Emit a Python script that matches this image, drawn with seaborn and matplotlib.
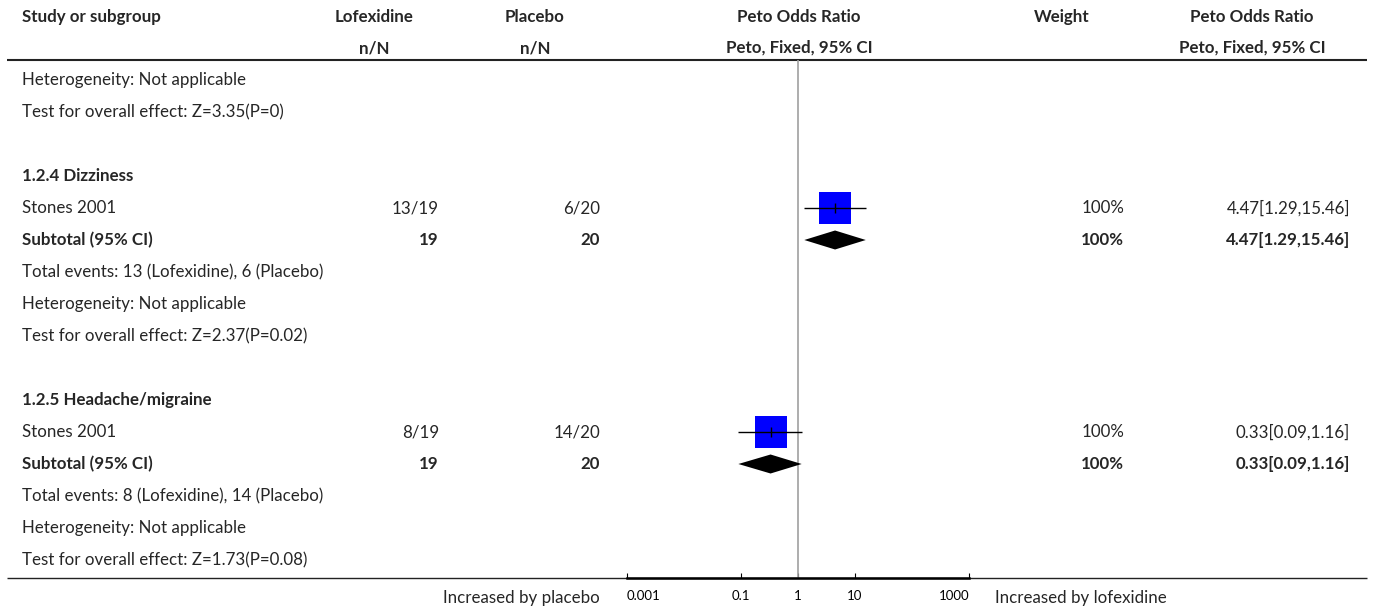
import matplotlib
matplotlib.use("Agg")
import matplotlib.pyplot as plt
import seaborn as sns
import pandas as pd

# ---------------- data ----------------
prev_heterogeneity = "Heterogeneity: Not applicable"
prev_test = "Test for overall effect: Z=3.35(P=0)"

group_titles = ["1.2.4 Dizziness", "1.2.5 Headache/migraine"]
study_names = ["Stones 2001", "Stones 2001"]
lofex_events = [13, 8]
lofex_totals = [19, 19]
placebo_events = [6, 14]
placebo_totals = [20, 20]
odds_ratios = [4.47, 0.33]
ci_lows = [1.29, 0.09]
ci_highs = [15.46, 1.16]
weights = [100, 100]
z_values = ["2.37", "1.73"]
p_values = ["0.02", "0.08"]
heterogeneity = ["Not applicable", "Not applicable"]

tick_values = [0.001, 0.1, 1, 10, 1000]
tick_labels = ["0.001", "0.1", "1", "10", "1000"]

headers_row1 = ["Study or subgroup", "Lofexidine", "Placebo", "Peto Odds Ratio", "Weight", "Peto Odds Ratio"]
headers_row2 = ["", "n/N", "n/N", "Peto, Fixed, 95% CI", "", "Peto, Fixed, 95% CI"]
left_label = "Increased by placebo"
right_label = "Increased by lofexidine"

# ---------------- style ----------------
sns.set_theme(style="white")
plt.rcParams['font.family'] = ['Lato', 'DejaVu Sans']
FS = 12.2
TFS = 9.5

W, H = 1375, 613
fig = plt.figure(figsize=(W / 100, H / 100), dpi=100)

ROW0_PX, ROW_PX = 80, 32


def px2row(p):
    return (p - ROW0_PX) / ROW_PX


bg = fig.add_axes([0, 0, 1, 1])
bg.set_xlim(0, W)
bg.set_ylim(px2row(H), px2row(0))
bg.axis('off')

top_px, bot_px = 60, 578
left_px, right_px = 627, 969
fa = fig.add_axes([left_px / W, 1 - bot_px / H, (right_px - left_px) / W, (bot_px - top_px) / H])
fa.set_xscale('log')
fa.set_xlim(0.001, 1000)
fa.set_ylim(px2row(bot_px), px2row(top_px))
fa.patch.set_alpha(0)

# column x positions (pixels)
X_STUDY = 22
X_LOF_R, X_LOF_C = 439, 374
X_PLA_R, X_PLA_C = 600, 535
X_FOR_C = 799
X_W_R, X_W_C = 1124, 1062
X_OR_R, X_OR_C = 1350, 1252

# headers
hdr_y1, hdr_y2 = px2row(17), px2row(48)
bg.text(X_STUDY, hdr_y1, headers_row1[0], ha='left', va='center', fontsize=FS, fontweight='bold')
for txt, txt2, xc in zip(headers_row1[1:], headers_row2[1:], [X_LOF_C, X_PLA_C, X_FOR_C, X_W_C, X_OR_C]):
    bg.text(xc, hdr_y1, txt, ha='center', va='center', fontsize=FS, fontweight='bold')
    if txt2:
        bg.text(xc, hdr_y2, txt2, ha='center', va='center', fontsize=FS, fontweight='bold')

# rule lines
bg.plot([7, 1367], [px2row(60)] * 2, color='#222222', lw=1.5, solid_capstyle='butt')
bg.plot([7, 1367], [px2row(578)] * 2, color='#222222', lw=1.0, solid_capstyle='butt')

# body rows
bg.text(X_STUDY, 0, prev_heterogeneity, ha='left', va='center', fontsize=FS)
bg.text(X_STUDY, 1, prev_test, ha='left', va='center', fontsize=FS)

study_rows = []
sub_rows = []
for g in range(len(group_titles)):
    base = 3 + 7 * g
    bg.text(X_STUDY, base, group_titles[g], ha='left', va='center', fontsize=FS, fontweight='bold')
    r = base + 1
    study_rows.append(r)
    bg.text(X_STUDY, r, study_names[g], ha='left', va='center', fontsize=FS)
    bg.text(X_LOF_R, r, f"{lofex_events[g]}/{lofex_totals[g]}", ha='right', va='center', fontsize=FS)
    bg.text(X_PLA_R, r, f"{placebo_events[g]}/{placebo_totals[g]}", ha='right', va='center', fontsize=FS)
    bg.text(X_W_R, r, f"{weights[g]}%", ha='right', va='center', fontsize=FS)
    bg.text(X_OR_R, r, f"{odds_ratios[g]:.2f}[{ci_lows[g]:.2f},{ci_highs[g]:.2f}]",
            ha='right', va='center', fontsize=FS)
    r = base + 2
    sub_rows.append(r)
    bg.text(X_STUDY, r, "Subtotal (95% CI)", ha='left', va='center', fontsize=FS, fontweight='bold')
    bg.text(X_LOF_R, r, f"{lofex_totals[g]}", ha='right', va='center', fontsize=FS, fontweight='bold')
    bg.text(X_PLA_R, r, f"{placebo_totals[g]}", ha='right', va='center', fontsize=FS, fontweight='bold')
    bg.text(X_W_R, r, f"{weights[g]}%", ha='right', va='center', fontsize=FS, fontweight='bold')
    bg.text(X_OR_R, r, f"{odds_ratios[g]:.2f}[{ci_lows[g]:.2f},{ci_highs[g]:.2f}]",
            ha='right', va='center', fontsize=FS, fontweight='bold')
    bg.text(X_STUDY, base + 3,
            f"Total events: {lofex_events[g]} (Lofexidine), {placebo_events[g]} (Placebo)",
            ha='left', va='center', fontsize=FS)
    bg.text(X_STUDY, base + 4, f"Heterogeneity: {heterogeneity[g]}", ha='left', va='center', fontsize=FS)
    bg.text(X_STUDY, base + 5, f"Test for overall effect: Z={z_values[g]}(P={p_values[g]})",
            ha='left', va='center', fontsize=FS)

# forest plot marks
fa.axvline(1, color='#a0a0a0', lw=1.2, zorder=1)

df = pd.DataFrame({"or": odds_ratios, "lo": ci_lows, "hi": ci_highs,
                   "w": weights, "row": study_rows, "sub": sub_rows})
SQ_PT = 22.6  # side in points at 100% weight
for _, d in df.iterrows():
    sns.scatterplot(x=[d["or"]], y=[d["row"]], marker='s', color='#0000ff',
                    s=(SQ_PT * d["w"] / 100) ** 2, linewidth=0, ax=fa, zorder=2, legend=False)
fa.hlines(df["row"], df["lo"], df["hi"], color='black', lw=1.0, zorder=3)
fa.scatter(df["or"], df["row"], marker='|', s=42, color='black', linewidths=1.0, zorder=4)
half_h = 9.5 / ROW_PX
for _, d in df.iterrows():
    fa.fill([d["lo"], d["or"], d["hi"], d["or"]],
            [d["sub"], d["sub"] - half_h, d["sub"], d["sub"] + half_h],
            color='black', lw=0, zorder=3)

for s in ['top', 'left', 'right']:
    fa.spines[s].set_visible(False)
fa.spines['bottom'].set_linewidth(1.8)
fa.spines['bottom'].set_color('black')
fa.set_xticks(tick_values)
fa.set_xticklabels(tick_labels, fontsize=TFS)
fa.xaxis.set_minor_locator(matplotlib.ticker.NullLocator())
fa.tick_params(axis='x', direction='in', length=3.5, width=0.8, pad=8.5, bottom=True, colors='black')
labels = fa.get_xticklabels()
labels[0].set_horizontalalignment('left')
labels[-1].set_horizontalalignment('right')
fa.set_yticks([])
fa.set_xlabel('')
fa.set_ylabel('')

bg.text(600, px2row(598), left_label, ha='right', va='center', fontsize=FS)
bg.text(995, px2row(598), right_label, ha='left', va='center', fontsize=FS)

fig.savefig("out.png", dpi=100)
